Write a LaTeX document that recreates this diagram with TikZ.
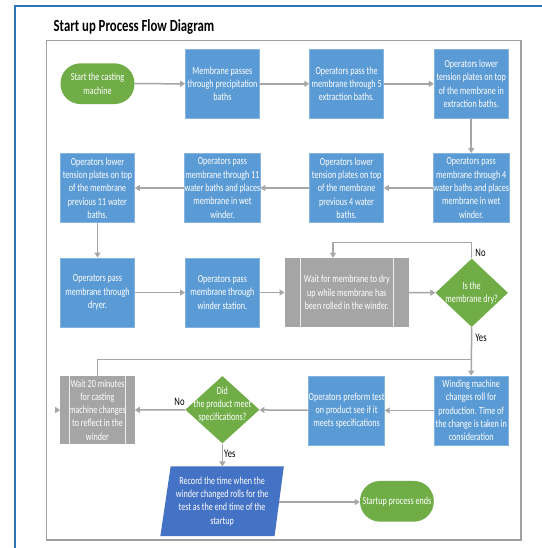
\documentclass[tikz,border=0pt]{standalone}
\usepackage{fontspec}
\setmainfont[FakeStretch=0.75]{Carlito}
\usetikzlibrary{arrows.meta,calc,shapes.geometric,backgrounds}
\definecolor{bblue}{HTML}{5B9BD5}
\definecolor{ggreen}{HTML}{70AD47}
\definecolor{ggray}{HTML}{A5A5A5}
\definecolor{dblue}{HTML}{4472C4}
\definecolor{lineg}{HTML}{A6A6A6}
\definecolor{frameblue}{HTML}{2E75B6}
\definecolor{innerg}{HTML}{A0A0A0}
\begin{document}
\begin{tikzpicture}[x=1pt,y=-1pt,
 base/.style={inner sep=0pt, align=center, text=white, font=\fontsize{10.8}{13.3}\selectfont},
 proc/.style={base, rectangle, fill=bblue, draw=bblue!75!white, line width=0.5pt, minimum width=74.2pt, minimum height=69.4pt},
 term/.style={base, rectangle, rounded corners=20pt, fill=ggreen, minimum width=74pt, minimum height=40.7pt},
 pproc/.style={base, rectangle, fill=ggray, minimum height=69pt},
 pline/.style={draw=white!80!ggray, line width=0.6pt},
 dec/.style={diamond, fill=ggreen, inner sep=0pt},
 conn/.style={draw=lineg, line width=1.5pt},
 arr/.style={conn, -{Triangle[length=5pt,width=6pt]}},
 lbl/.style={font=\fontsize{11.5}{13}\selectfont, inner sep=0pt, text=black}
]
\useasboundingbox (0,0) rectangle (541,548);
\begin{pgfonlayer}{background}
\fill[white] (0,0) rectangle (541,548);
\end{pgfonlayer}
% frames
\draw[frameblue, line width=2pt] (14.5,560) -- (14.5,6.5) -- (560,6.5);
\draw[innerg, line width=1.5pt] (46.5,40.5) rectangle (521,540);
\node[anchor=base west, inner sep=0pt, font=\bfseries\fontsize{17}{20}\selectfont] (title) at (53.5,31.7) {Start up Process Flow Diagram};

% row 1
\node[term] (start) at (97.5,83.7) {Start the casting\\machine};
\node[proc] (b2) at (222.4,83.8) {Membrane passes\\through precipitation\\baths};
\node[proc] (b3) at (346.6,83.8) {Operators pass the\\membrane through 5\\extraction baths.};
\node[proc] (b4) at (471.2,83.8) {Operators lower\\tension plates on top\\of the membrane in\\extraction baths.};
% row 2
\node[proc] (b5) at (471.2,188) {Operators pass\\membrane through 4\\water baths and places\\membrane in wet\\winder.};
\node[proc] (b6) at (346.6,188) {Operators lower\\tension plates on top\\of the membrane\\previous 4 water\\baths.};
\node[proc] (b7) at (222.4,188) {Operators pass\\membrane through 11\\water baths and places\\membrane in wet\\winder.};
\node[proc] (b8) at (97.5,188) {Operators lower\\tension plates on top\\of the membrane\\previous 11 water\\baths.};
% row 3
\node[proc] (b9) at (97.5,292.5) {Operators pass\\membrane through\\dryer.};
\node[proc] (b10) at (222.4,292.5) {Operators pass\\membrane through\\winder station.};
\node[pproc, minimum width=124.2pt] (g1) at (346.8,292.5) {Wait for membrane to dry\\up while membrane has\\been rolled in the winder.};
\draw[pline] ($(g1.north west)+(15.5,0)$) -- ($(g1.south west)+(15.5,0)$);
\draw[pline] ($(g1.north east)+(-15.5,0)$) -- ($(g1.south east)+(-15.5,0)$);
\node[dec, minimum width=72.5pt, minimum height=68.4pt] (d1) at (471.7,292.8) {};
\node[base] (d1t) at (471.7,292.8) {Is the\\membrane dry?};
% row 4
\node[proc] (b13) at (471.2,410.5) {Winding machine\\changes roll for\\production. Time of\\the change is taken in\\consideration};
\node[proc] (b14) at (346.6,410.5) {Operators preform test\\on product see if it\\meets specifications};
\node[dec, minimum width=74.2pt, minimum height=67.3pt] (d2) at (222.4,409.7) {};
\node[base] (d2t) at (222.4,404.5) {Did\\the product meet\\specifications?};
\node[pproc, minimum width=74.2pt, minimum height=68pt] (g2) at (97.5,410) {Wait 20 minutes\\for casting\\machine changes\\to reflect in the\\winder};
\draw[pline] ($(g2.north west)+(8.6,0)$) -- ($(g2.south west)+(8.6,0)$);
\draw[pline] ($(g2.north east)+(-9.3,0)$) -- ($(g2.south east)+(-9.3,0)$);
% row 5
\node[base, minimum width=113.1pt, minimum height=69.3pt] (rec) at (222.1,501.3) {Record the time when the\\winder changed rolls for the\\test as the end time of the\\startup};
\begin{pgfonlayer}{background}
\fill[dblue] ($(rec.north west)+(5.3,0)$) -- ($(rec.north east)+(5,0)$) -- ($(rec.south east)+(-4.3,0)$) -- ($(rec.south west)+(-5,0)$) -- cycle;
\end{pgfonlayer}
\node[term, minimum width=73.8pt] (end) at (396.9,501.3) {Startup process ends};

% connectors
\draw[arr] (start) -- (b2);
\draw[arr] (b2) -- (b3);
\draw[arr] (b3) -- (b4);
\draw[arr] (b4) -- (b5);
\draw[arr] (b5) -- (b6);
\draw[arr] (b6) -- (b7);
\draw[arr] (b7) -- (b8);
\draw[arr] (b8) -- (b9);
\draw[arr] (b9) -- (b10);
\draw[arr] (b10) -- (g1);
\draw[arr] (g1) -- (d1);
\draw[arr] (d1.north) -- ++(0,-16) -| ($(g1.north)+(-13.8,0)$);
\coordinate (j) at (471.7,359.3);
\draw[arr] (d1.south) -- (b13.north);
\draw[conn] (g2.north) |- (j);
\draw[arr] (b13) -- (b14);
\draw[arr] (b14) -- (d2);
\draw[arr] (d2) -- (g2);
\draw[arr] ($(g2.west)+(-5,0)$) -- (g2.west);
\draw[arr] (d2.south) -- (rec.north -| d2.south);
\draw[arr] ($(rec.east)+(0.3,0.7)$) -- (end.west |- {$(rec.east)+(0,0.7)$});

% labels
\node[lbl] (no1) at (480.5,252.5) {No};
\node[lbl] (yes1) at (481,337.5) {Yes};
\node[lbl] (no2) at (179.5,402) {No};
\node[lbl] (yes2) at (229.8,453.5) {Yes};
\end{tikzpicture}
\end{document}
